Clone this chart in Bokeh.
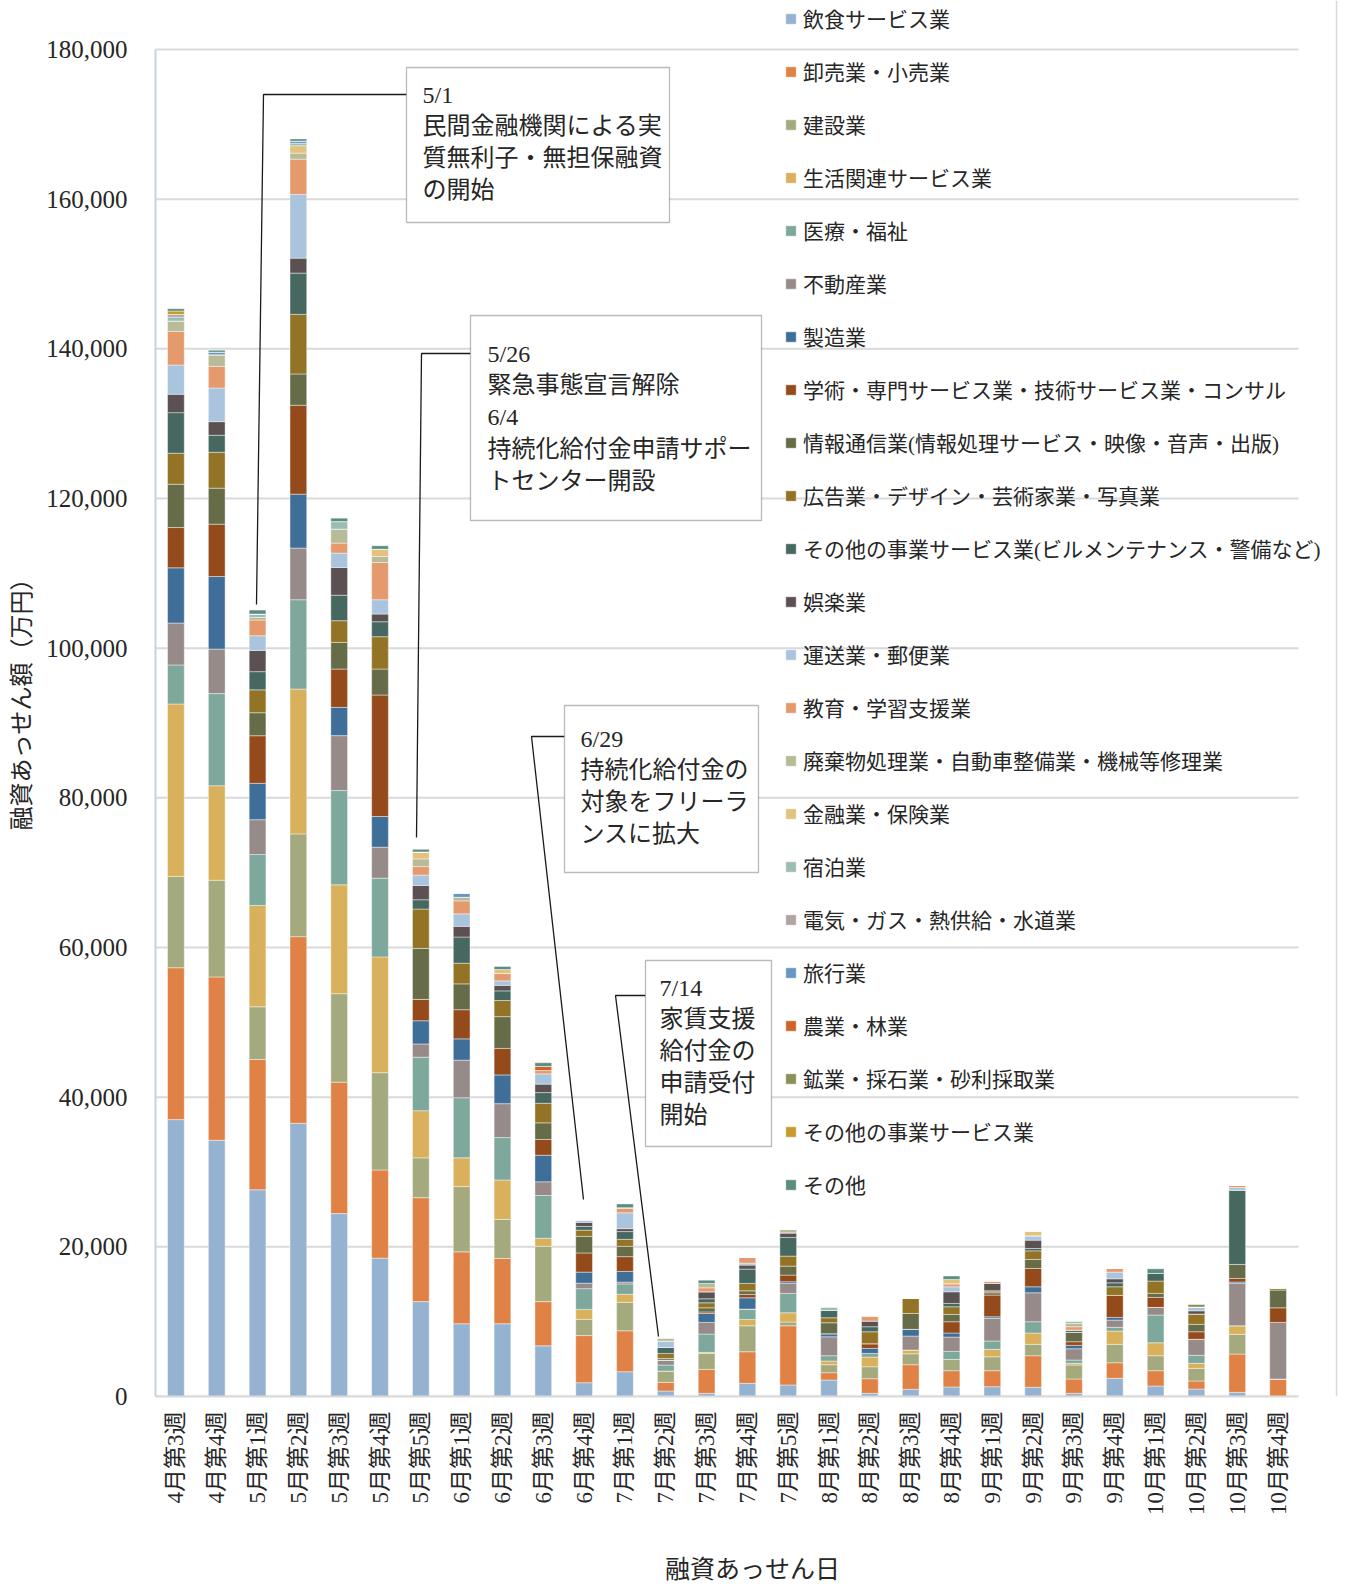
import math
from bokeh.plotting import figure
from bokeh.models import (ColumnDataSource, FixedTicker, NumeralTickFormatter, Range1d, Label,
                          BoxAnnotation, LinearAxis)
from bokeh.embed import file_html
from bokeh.resources import INLINE

weeks = ["4月第3週", "4月第4週", "5月第1週", "5月第2週", "5月第3週", "5月第4週", "5月第5週",
         "6月第1週", "6月第2週", "6月第3週", "6月第4週", "7月第1週", "7月第2週", "7月第3週",
         "7月第4週", "7月第5週", "8月第1週", "8月第2週", "8月第3週", "8月第4週", "9月第1週",
         "9月第2週", "9月第3週", "9月第4週", "10月第1週", "10月第2週", "10月第3週", "10月第4週"]

categories = ["飲食サービス業", "卸売業・小売業", "建設業", "生活関連サービス業", "医療・福祉", "不動産業",
              "製造業", "学術・専門サービス業・技術サービス業・コンサル",
              "情報通信業(情報処理サービス・映像・音声・出版)", "広告業・デザイン・芸術家業・写真業",
              "その他の事業サービス業(ビルメンテナンス・警備など)", "娯楽業", "運送業・郵便業",
              "教育・学習支援業", "廃棄物処理業・自動車整備業・機械等修理業", "金融業・保険業", "宿泊業",
              "電気・ガス・熱供給・水道業", "旅行業", "農業・林業", "鉱業・採石業・砂利採取業",
              "その他の事業サービス業", "その他"]

colors = ["#95B3D0", "#E08246", "#A5AA7E", "#D9B15C", "#7DA89B", "#978B8A", "#3F6F99", "#954A1C",
          "#666B48", "#937325", "#466860", "#5B5153", "#A9C4DC", "#E59A6D", "#B7BB98", "#E3C27D",
          "#9DBDB2", "#B0A5A3", "#6896C3", "#CF6426", "#8C9057", "#C89A2E", "#5B8C7F"]

inshoku = [37000, 34240, 27620, 36510, 24440, 18490, 12680, 9720, 9720, 6770, 1840, 3310, 730, 420, 1760, 1540, 2200, 420, 960, 1270, 1310, 1230, 420, 2430, 1400, 1000, 560, 0]
oroshi = [20300, 21820, 17410, 24940, 17570, 11780, 13890, 9610, 8720, 5910, 6300, 5470, 1160, 3200, 4220, 7910, 980, 1960, 3290, 2180, 2140, 4220, 1920, 2080, 2050, 1070, 5110, 2340]
kensetsu = [12200, 12930, 7050, 13730, 11820, 13000, 5320, 8720, 5220, 7390, 2170, 3800, 1510, 2140, 3470, 500, 1070, 1600, 1460, 1510, 1860, 1520, 1870, 2460, 2000, 1690, 2630, 0]
seikatsu = [23040, 12630, 13540, 19360, 14550, 15470, 6300, 3840, 5270, 1080, 1330, 1080, 0, 140, 850, 1240, 490, 1290, 500, 0, 990, 1510, 220, 1770, 1730, 670, 1150, 0]
iryo = [5220, 12310, 6800, 11930, 12590, 10520, 7150, 8030, 5670, 5710, 2770, 1390, 800, 2440, 1380, 2590, 710, 490, 0, 1070, 1110, 1510, 440, 500, 3700, 1070, 0, 0]
fudosan = [5600, 5950, 4660, 6900, 7340, 4140, 1770, 5020, 4530, 1830, 730, 240, 670, 1560, 0, 1330, 2530, 0, 1870, 1910, 3030, 3870, 1510, 970, 1030, 2140, 5660, 7560]
seizo = [7380, 9700, 4850, 7210, 3780, 4100, 3100, 2850, 3840, 3550, 1480, 1420, 0, 1200, 1510, 220, 400, 670, 890, 540, 210, 800, 450, 360, 0, 0, 180, 0]
gakujutsu = [5380, 6990, 6370, 11880, 5120, 16240, 2860, 3900, 3550, 2110, 2560, 1980, 0, 200, 450, 890, 0, 620, 0, 1510, 2900, 2450, 490, 2940, 1330, 1010, 490, 1950]
joho = [5790, 4810, 3070, 4180, 3560, 3470, 6810, 3450, 4240, 2220, 2220, 1380, 220, 550, 480, 1200, 1470, 0, 2130, 980, 310, 1200, 1250, 0, 540, 990, 1870, 2370]
kokoku = [4140, 4800, 3060, 7970, 2900, 4320, 5260, 2760, 2160, 2610, 830, 930, 670, 670, 990, 1340, 670, 1600, 2010, 1020, 260, 1150, 0, 1150, 1640, 1370, 0, 310]
biru = [5420, 2270, 2430, 5510, 3410, 2000, 1240, 3500, 1280, 1430, 490, 1040, 800, 540, 1910, 2490, 980, 670, 0, 450, 0, 320, 310, 530, 1030, 0, 9920, 0]
goraku = [2460, 1820, 2840, 2000, 3700, 1030, 1910, 1430, 740, 1130, 550, 390, 0, 930, 540, 620, 0, 760, 0, 1550, 990, 1110, 0, 540, 0, 440, 0, 0]
unso = [3900, 4500, 1960, 8510, 1920, 1910, 1380, 1670, 600, 1380, 350, 2120, 840, 0, 260, 0, 0, 0, 0, 670, 0, 580, 0, 890, 0, 500, 360, 0]
kyoiku = [4500, 2890, 2100, 4720, 1340, 4980, 1140, 1730, 980, 440, 0, 680, 0, 530, 760, 0, 0, 710, 0, 400, 350, 0, 440, 490, 0, 0, 270, 0]
haikibutsu = [1380, 1550, 350, 800, 1870, 800, 1030, 480, 0, 0, 0, 0, 450, 590, 0, 450, 0, 0, 0, 0, 0, 0, 450, 0, 0, 0, 0, 0]
kinyu = [0, 0, 0, 1000, 0, 980, 930, 0, 540, 0, 0, 0, 0, 0, 0, 0, 0, 0, 0, 590, 0, 660, 0, 0, 0, 0, 0, 0]
shukuhaku = [530, 0, 450, 300, 1010, 0, 0, 0, 0, 0, 0, 0, 0, 0, 0, 0, 490, 0, 0, 0, 0, 0, 350, 0, 0, 0, 0, 0]
denki = [360, 0, 0, 0, 0, 0, 0, 0, 0, 0, 0, 0, 0, 0, 0, 0, 0, 0, 0, 0, 0, 0, 0, 0, 0, 0, 0, 0]
ryoko = [0, 350, 0, 300, 0, 0, 0, 550, 0, 0, 0, 0, 0, 0, 0, 0, 0, 0, 0, 0, 0, 0, 0, 0, 0, 0, 0, 0]
nogyo = [0, 0, 0, 0, 0, 0, 0, 0, 0, 550, 0, 0, 0, 0, 0, 0, 0, 0, 0, 0, 0, 0, 0, 0, 0, 0, 0, 0]
kogyo = [0, 0, 0, 0, 0, 0, 0, 0, 0, 0, 0, 0, 0, 0, 0, 0, 0, 0, 0, 0, 0, 0, 0, 0, 0, 400, 0, 0]
sonota_jigyo = [450, 0, 0, 0, 0, 0, 0, 0, 0, 0, 0, 0, 0, 0, 0, 0, 0, 0, 0, 0, 0, 0, 0, 0, 0, 0, 0, 0]
sonota = [310, 250, 530, 300, 450, 450, 350, 0, 400, 490, 0, 500, 0, 440, 0, 0, 0, 0, 0, 440, 0, 0, 0, 0, 610, 0, 0, 0]

series = [inshoku, oroshi, kensetsu, seikatsu, iryo, fudosan, seizo, gakujutsu, joho, kokoku, biru,
          goraku, unso, kyoiku, haikibutsu, kinyu, shukuhaku, denki, ryoko, nogyo, kogyo,
          sonota_jigyo, sonota]

y_ticks = [0, 20000, 40000, 60000, 80000, 100000, 120000, 140000, 160000, 180000]

FONT = "Liberation Serif, Noto Sans CJK JP"
TXT = "#262626"

# canvas and frame geometry (page pixels; Bokeh's page has no body margin)
W, H = 1349, 1585
FL, FR, FT, FB = 155, W, 0, 1396
N = len(weeks)
YMAX = 180000
PLOT_RIGHT_PX = 1298      # where the bar area ends
PLOT_TOP_PX = 49          # where 180,000 sits
XSTEP = (PLOT_RIGHT_PX - FL) / N
YSCALE = YMAX / (FB - PLOT_TOP_PX)
X_END = -0.5 + (FR - FL) / XSTEP
Y_END = (FB - FT) * YSCALE


def px2x(px):
    return (px - FL) / XSTEP - 0.5


def px2y(py):
    return (FB - py) * YSCALE


keys = ["s%d" % i for i in range(len(categories))]
data = {"x": list(range(N))}
for k, s in zip(keys, series):
    data[k] = s
source = ColumnDataSource(data)

p = figure(width=W, height=H, output_backend="svg", toolbar_location=None,
           x_range=Range1d(-0.5, X_END), y_range=Range1d(0, Y_END),
           min_border_left=FL, min_border_right=W - FR, min_border_top=FT, min_border_bottom=H - FB)
p.outline_line_color = None
p.background_fill_color = "white"
p.border_fill_color = "white"

# horizontal gridlines limited to the bar area
grid = p.segment(x0=[-0.5] * len(y_ticks), x1=[N - 0.5] * len(y_ticks), y0=y_ticks, y1=y_ticks,
                 line_color="#D9D9D9", line_width=2)
grid.level = "underlay"

# chart area right border
p.segment(x0=[px2x(1336)], x1=[px2x(1336)], y0=[0], y1=[Y_END], line_color="#D9D9D9", line_width=1.5)

p.vbar_stack(keys, x="x", width=0.41, source=source, color=colors,
             line_color="white", line_width=0.6, line_alpha=0.7,
             legend_label=categories)

# axes
p.xaxis.bounds = (-0.5, N - 0.5)
p.xaxis.ticker = FixedTicker(ticks=list(range(N)))
p.xaxis.major_label_overrides = {i: w for i, w in enumerate(weeks)}
p.xaxis.major_label_orientation = math.pi / 2
p.xaxis.major_label_text_font = FONT
p.xaxis.major_label_text_font_size = "23px"
p.xaxis.major_label_text_color = TXT
p.xaxis.major_label_standoff = 15
p.xaxis.major_tick_line_color = None
p.xaxis.minor_tick_line_color = None
p.xaxis.major_tick_out = 0
p.xaxis.minor_tick_out = 0
p.xaxis.axis_line_color = "#D9D9D9"
p.xaxis.axis_line_width = 2

xtitle = LinearAxis(ticker=FixedTicker(ticks=[]), axis_line_color=None, major_tick_line_color=None,
                    minor_tick_line_color=None, major_tick_out=0, minor_tick_out=0,
                    major_label_standoff=0, axis_label="融資あっせん日", axis_label_standoff=37,
                    axis_label_text_font=FONT, axis_label_text_font_size="25px",
                    axis_label_text_font_style="normal", axis_label_text_color=TXT)
p.add_layout(xtitle, "below")

p.yaxis.bounds = (0, YMAX)
p.yaxis.ticker = FixedTicker(ticks=y_ticks)
p.yaxis.formatter = NumeralTickFormatter(format="0,0")
p.yaxis.major_label_text_font = FONT
p.yaxis.major_label_text_font_size = "25px"
p.yaxis.major_label_text_color = TXT
p.yaxis.major_label_standoff = 28
p.yaxis.major_tick_line_color = None
p.yaxis.minor_tick_line_color = None
p.yaxis.major_tick_out = 0
p.yaxis.minor_tick_out = 0
p.yaxis.axis_line_color = "#C4D4E0"
p.yaxis.axis_line_width = 2
p.yaxis.axis_label = "融資あっせん額（万円）"
p.yaxis.axis_label_text_font = FONT
p.yaxis.axis_label_text_font_size = "24px"
p.yaxis.axis_label_text_font_style = "normal"
p.yaxis.axis_label_text_color = TXT
p.yaxis.axis_label_standoff = 8

p.xgrid.grid_line_color = None
p.ygrid.grid_line_color = None

# legend
lg = p.legend[0]
lg.location = (629, 196)
lg.orientation = "vertical"
lg.padding = 0
lg.margin = 0
lg.spacing = 21
lg.label_height = 32
lg.glyph_height = 13
lg.glyph_width = 13
lg.label_standoff = 6
lg.label_text_font = FONT
lg.label_text_font_size = "21px"
lg.label_text_color = TXT
lg.label_text_baseline = "middle"
lg.background_fill_alpha = 0
lg.border_line_alpha = 0
lg.click_policy = "none"

# callout annotations
notes = [
    dict(box=(406, 669, 67, 222), lines=["5/1", "民間金融機関による実", "質無利子・無担保融資", "の開始"],
         tx=422, ty=94, leader=[(406, 94), (263, 94), (256, 604)]),
    dict(box=(470, 761, 315, 520), lines=["5/26", "緊急事態宣言解除", "6/4", "持続化給付金申請サポー", "トセンター開設"],
         tx=487, ty=353, leader=[(470, 353), (421, 353), (416, 837)]),
    dict(box=(564, 758, 705, 872), lines=["6/29", "持続化給付金の", "対象をフリーラ", "ンスに拡大"],
         tx=580, ty=738, leader=[(564, 736), (531, 736), (583, 1199)]),
    dict(box=(645, 771, 960, 1146), lines=["7/14", "家賃支援", "給付金の", "申請受付", "開始"],
         tx=659, ty=987, leader=[(645, 995), (615, 995), (658, 1336)]),
]
LINE_H = 31.8
for n in notes:
    l, r, t, b = n["box"]
    p.add_layout(BoxAnnotation(left=px2x(l), right=px2x(r), top=px2y(t), bottom=px2y(b),
                               fill_color="white", fill_alpha=1.0, line_color="#1a1a1a",
                               line_width=1.3, level="overlay"))
    xs = [px2x(a) for a, _ in n["leader"]]
    ys = [px2y(c) for _, c in n["leader"]]
    p.line(xs, ys, line_color="#1a1a1a", line_width=1.3)
    for i, s in enumerate(n["lines"]):
        p.add_layout(Label(x=px2x(n["tx"]), y=px2y(n["ty"] + i * LINE_H), text=s, text_font=FONT,
                           text_font_size="24px", text_color=TXT, text_align="left",
                           text_baseline="middle", level="overlay"))

open("out.html", "w").write(file_html(p, INLINE))
